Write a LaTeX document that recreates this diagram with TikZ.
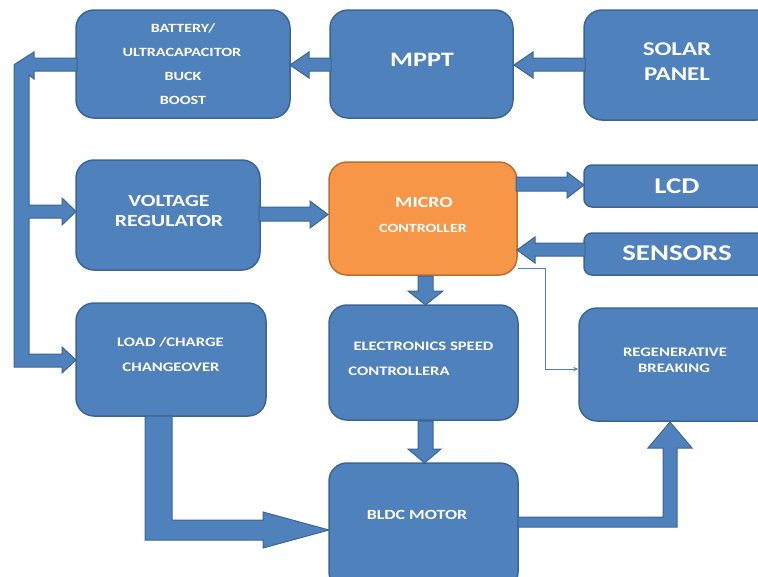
\documentclass[tikz,border=0pt]{standalone}
\usepackage{fontspec}
\setmainfont{Carlito}[FakeStretch=1.28]
\usetikzlibrary{arrows.meta}
\definecolor{boxblue}{HTML}{4F81BD}
\definecolor{edgeblue}{HTML}{3B6693}
\definecolor{boxorange}{HTML}{F79646}
\definecolor{edgeorange}{HTML}{B96F30}
\begin{document}
\begin{tikzpicture}[x=1pt,y=-1pt,
  blk/.style={draw=edgeblue, fill=boxblue, line width=1.5pt, rounded corners=18pt, inner sep=0pt},
  smallblk/.style={blk, rounded corners=8pt},
  orangeblk/.style={draw=edgeorange, fill=boxorange, line width=1.5pt, rounded corners=18pt, inner sep=0pt},
  lbl/.style={text=white, inner sep=0pt, anchor=center},
  fs/.style={font=\fontsize{#1}{#1}\selectfont\bfseries},
  barrow/.style={fill=boxblue, draw=edgeblue, line width=1pt, line join=miter},
  thinline/.style={draw=boxblue, line width=0.8pt, -{Stealth[length=5pt,width=4.5pt]}}
]
\useasboundingbox (0,0) rectangle (758,576);
\clip (0,0) rectangle (758,576);

% boxes
\node[blk, minimum width=214pt, minimum height=108pt] (bat) at (183,64) {};
\node[blk, minimum width=183pt, minimum height=108pt] (mppt) at (421.5,64) {};
\node[blk, minimum width=190pt, minimum height=110pt] (solar) at (679,65) {};
\node[blk, minimum width=184pt, minimum height=110pt] (vreg) at (168,215) {};
\node[orangeblk, minimum width=188pt, minimum height=113pt] (micro) at (423,218.5) {};
\node[smallblk, minimum width=194pt, minimum height=42pt] (lcd) at (681,186) {};
\node[smallblk, minimum width=194pt, minimum height=42pt] (sens) at (681,254) {};
\node[blk, minimum width=190pt, minimum height=113pt] (load) at (171,359.5) {};
\node[blk, minimum width=189pt, minimum height=115pt] (esc) at (423.5,362.5) {};
\node[blk, minimum width=198pt, minimum height=113pt] (regen) at (678,364.5) {};
\node[blk, minimum width=189pt, minimum height=127pt] (bldc) at (423.5,526.5) {};

% labels
\node[lbl, fs=12.6] (t1) at (183,28) {BATTERY/};
\node[lbl, fs=12.6] (t2) at (182,52) {ULTRACAPACITOR};
\node[lbl, fs=12.6] (t3) at (183,76) {BUCK};
\node[lbl, fs=12.6] (t4) at (183,100.5) {BOOST};
\node[lbl, fs=20.5] (t5) at (422,60) {MPPT};
\node[lbl, fs=19.5] (t6) at (677,49) {SOLAR};
\node[lbl, fs=19.5] (t7) at (677,74) {PANEL};
\node[lbl, fs=17] (t8) at (169,200.5) {VOLTAGE};
\node[lbl, fs=17] (t9) at (169,220.5) {REGULATOR};
\node[lbl, fs=15.5] (t10) at (424,202) {MICRO};
\node[lbl, fs=12.5] (t11) at (423,228.5) {CONTROLLER};
\node[lbl, fs=22.5] (t12) at (677,186) {LCD};
\node[lbl, fs=22.5] (t13) at (677,253.5) {SENSORS};
\node[lbl, fs=13] (t14) at (170.5,342.5) {LOAD /CHARGE};
\node[lbl, fs=13] (t15) at (171,367) {CHANGEOVER};
\node[lbl, fs=13] (t16) at (423.5,346.5) {ELECTRONICS SPEED};
\node[lbl, fs=13] (t17) at (399,371) {CONTROLLERA};
\node[lbl, fs=13] (t18) at (675,352.5) {REGENERATIVE};
\node[lbl, fs=13] (t19) at (674,368) {BREAKING};
\node[lbl, fs=14] (t20) at (417,515) {BLDC MOTOR};

% block arrows
% MPPT -> battery
\draw[barrow] (331,58) -- (309,58) -- (309,52) -- (290,65) -- (309,78) -- (309,71) -- (331,71) -- cycle;
% Solar -> MPPT
\draw[barrow] (585,58) -- (533,58) -- (533,52) -- (514,65) -- (533,78) -- (533,71) -- (585,71) -- cycle;
% battery -> bus -> voltage regulator and load changeover
\draw[barrow] (77,58) -- (34,58) -- (34,52) -- (15,64) -- (14,65) -- (14,367) -- (62,367) -- (62,373) -- (76,360)
  -- (62,347) -- (62,354) -- (29,354) -- (29,218) -- (62,218) -- (62,225) -- (76,211.5) -- (62,198) -- (62,205)
  -- (29,205) -- (29,75) -- (34,79) -- (34,71) -- (77,71) -- cycle;
% voltage regulator -> micro
\draw[barrow] (259,207) -- (310,207) -- (310,201) -- (328,214.5) -- (310,228) -- (310,221) -- (259,221) -- cycle;
% micro -> LCD
\draw[barrow] (516,177) -- (567,177) -- (567,172) -- (584,185) -- (567,198) -- (567,191) -- (516,191) -- cycle;
% sensors -> micro
\draw[barrow] (585,243) -- (535,243) -- (535,237) -- (517,250) -- (535,263) -- (535,256) -- (585,256) -- cycle;
% micro -> ESC
\draw[barrow] (418,276) -- (418,291) -- (408,291) -- (425.5,305) -- (443,291) -- (433,291) -- (433,276) -- cycle;
% ESC -> BLDC
\draw[barrow] (418,421) -- (418,449) -- (408,449) -- (424.5,463) -- (441,449) -- (433,449) -- (433,421) -- cycle;
% load -> BLDC
\draw[barrow] (145,416) -- (172,416) -- (172,520) -- (263,520) -- (263,512) -- (329,530) -- (263,548) -- (263,540) -- (145,540) -- cycle;
% BLDC -> regenerative
\draw[barrow] (518,517) -- (663,517) -- (663,448) -- (648,448) -- (670,422) -- (692,448) -- (677,448) -- (677,527) -- (518,527) -- cycle;

% thin connector micro -> regenerative
\coordinate (bend) at (545,268);
\draw[thinline] (micro.east |- bend) -- (bend) |- (regen.west |- 0,369);
\end{tikzpicture}
\end{document}
